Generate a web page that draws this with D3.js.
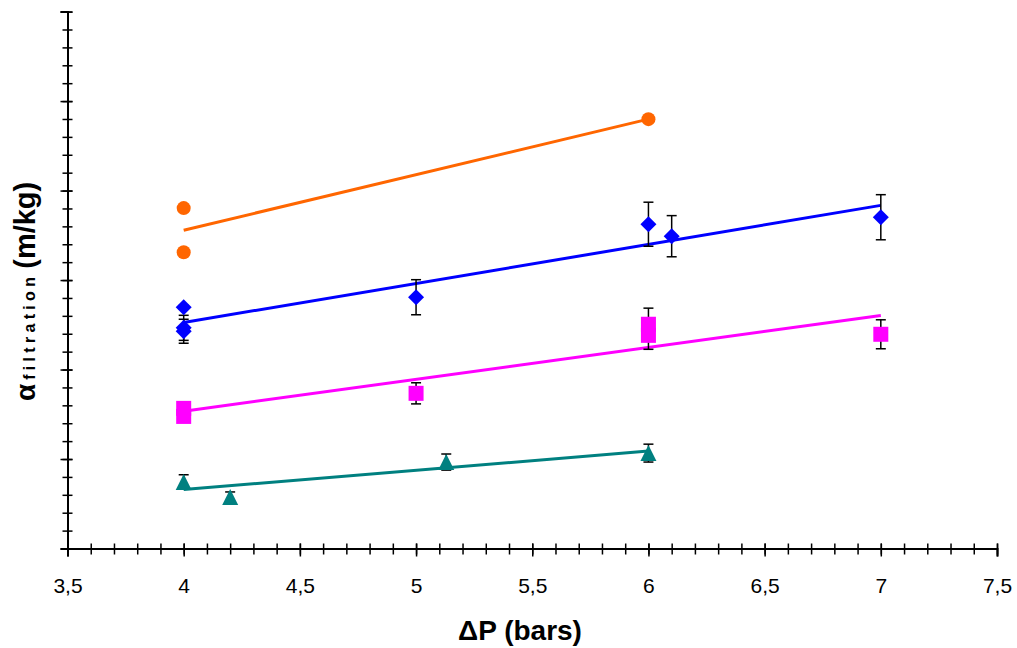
<!DOCTYPE html>
<html>
<head>
<meta charset="utf-8">
<script src="https://cdn.jsdelivr.net/npm/d3@7"></script>
<style>
  html, body { margin: 0; padding: 0; background: #fff; }
  svg { display: block; font-family: "Liberation Sans", Arial, sans-serif; }
</style>
</head>
<body>
<svg id="chart" width="1017" height="648"></svg>
<script>
// ---------- data ----------
const xMajorTicks = [3.5, 4, 4.5, 5, 5.5, 6, 6.5, 7, 7.5];
const xTickLabels = ["3,5", "4", "4,5", "5", "5,5", "6", "6,5", "7", "7,5"];
const yMajorTicks = [0, 5, 10, 15, 20, 25, 30];

const orangeX = [4, 4, 6];
const orangeY = [19.02, 16.55, 23.99];

const blueX = [4, 4, 4, 5, 6, 6.1, 7];
const blueY = [13.48, 12.33, 12.14, 14.04, 18.12, 17.45, 18.51];
const blueErr = [0.1, 0.7, 0.67, 0.98, 1.23, 1.15, 1.26];

const magentaX = [4, 4, 5, 6, 6, 7];
const magentaY = [7.83, 7.38, 8.67, 12.53, 11.91, 11.97];
const magentaErr = [0.28, 0.28, 0.59, 0.9, 0.78, 0.81];

const tealX = [4, 4.2, 5.13, 6];
const tealY = [3.72, 2.88, 4.83, 5.33];
const tealErr = [0.4, 0.28, 0.45, 0.5];

const xTitle = "ΔP (bars)";
const yTitleMain = "α";
const yTitleSub = "filtration";
const yTitleUnit = "(m/kg)";

// ---------- layout ----------
const svg = d3.select("#chart");
const plotLeft = 67.5, plotRight = 997, plotTop = 11.6, plotBottom = 548.5;

const x = d3.scaleLinear().domain([3.5, 7.5]).range([plotLeft, plotRight]);
const y = d3.scaleLinear().domain([0, 30]).range([plotBottom, plotTop]);

const series = [
  { xs: orangeX, ys: orangeY, err: null, color: "#FF6600", shape: "circle" },
  { xs: blueX, ys: blueY, err: blueErr, color: "#0000FF", shape: "diamond" },
  { xs: magentaX, ys: magentaY, err: magentaErr, color: "#FF00FF", shape: "square" },
  { xs: tealX, ys: tealY, err: tealErr, color: "#008080", shape: "triangle" }
];

function regress(xs, ys) {
  const n = xs.length;
  const mx = d3.mean(xs), my = d3.mean(ys);
  let sxy = 0, sxx = 0;
  for (let i = 0; i < n; i++) { sxy += (xs[i] - mx) * (ys[i] - my); sxx += (xs[i] - mx) ** 2; }
  const b = sxy / sxx;
  return { a: my - b * mx, b };
}

// ---------- axes ----------
const axisColor = "#000";
const xMinor = d3.range(35, 76).map(v => v / 10);
const gxMinor = svg.append("g").attr("transform", `translate(0,${plotBottom})`)
  .call(d3.axisBottom(x).tickValues(xMinor).tickSize(6).tickFormat(""));
gxMinor.select(".domain").remove();
gxMinor.selectAll(".tick line").attr("y1", -5).attr("stroke", axisColor).attr("stroke-width", 1.5);

const gx = svg.append("g").attr("transform", `translate(0,${plotBottom})`)
  .call(d3.axisBottom(x).tickValues(xMajorTicks).tickSize(8).tickPadding(22)
        .tickFormat((d, i) => xTickLabels[i]));
gx.select(".domain").attr("stroke", axisColor).attr("stroke-width", 2);
gx.selectAll(".tick line").attr("y1", -5).attr("stroke", axisColor).attr("stroke-width", 1.5);
gx.selectAll(".tick text").attr("font-size", 21).attr("fill", "#000")
  .attr("font-family", "'Liberation Sans', Arial, sans-serif");

const yMinor = d3.range(0, 31);
const gyMinor = svg.append("g").attr("transform", `translate(${plotLeft},0)`)
  .call(d3.axisLeft(y).tickValues(yMinor).tickSize(5).tickFormat(""));
gyMinor.select(".domain").remove();
gyMinor.selectAll(".tick line").attr("x1", 5).attr("stroke", axisColor).attr("stroke-width", 1.5);

const gy = svg.append("g").attr("transform", `translate(${plotLeft},0)`)
  .call(d3.axisLeft(y).tickValues(yMajorTicks).tickSize(7).tickFormat(""));
gy.select(".domain").attr("stroke", axisColor).attr("stroke-width", 2);
gy.selectAll(".tick line").attr("x1", 5).attr("stroke", axisColor).attr("stroke-width", 1.5);

// ---------- trend lines ----------
series.forEach(s => {
  const r = regress(s.xs, s.ys);
  const x0 = d3.min(s.xs), x1 = d3.max(s.xs);
  svg.append("line")
    .attr("x1", x(x0)).attr("y1", y(r.a + r.b * x0))
    .attr("x2", x(x1)).attr("y2", y(r.a + r.b * x1))
    .attr("stroke", s.color).attr("stroke-width", 3);
});

// ---------- error bars ----------
series.forEach(s => {
  if (!s.err) return;
  const g = svg.append("g").attr("stroke", "#000").attr("stroke-width", 1.5);
  s.xs.forEach((xv, i) => {
    const cx = x(xv), yt = y(s.ys[i] + s.err[i]), yb = y(s.ys[i] - s.err[i]);
    g.append("line").attr("x1", cx).attr("x2", cx).attr("y1", yt).attr("y2", yb);
    g.append("line").attr("x1", cx - 5).attr("x2", cx + 5).attr("y1", yt).attr("y2", yt);
    g.append("line").attr("x1", cx - 5).attr("x2", cx + 5).attr("y1", yb).attr("y2", yb);
  });
});

// ---------- markers ----------
series.forEach(s => {
  const g = svg.append("g").attr("fill", s.color);
  s.xs.forEach((xv, i) => {
    const cx = x(xv), cy = y(s.ys[i]);
    if (s.shape === "circle") {
      g.append("circle").attr("cx", cx).attr("cy", cy).attr("r", 7);
    } else if (s.shape === "diamond") {
      g.append("path").attr("d", `M${cx},${cy - 8}L${cx + 8},${cy}L${cx},${cy + 8}L${cx - 8},${cy}Z`);
    } else if (s.shape === "square") {
      g.append("rect").attr("x", cx - 7.5).attr("y", cy - 7.5).attr("width", 15).attr("height", 15);
    } else if (s.shape === "triangle") {
      g.append("path").attr("d", `M${cx},${cy - 8}L${cx + 8},${cy + 8}L${cx - 8},${cy + 8}Z`);
    }
  });
});

// ---------- titles ----------
svg.append("text")
  .attr("x", 520).attr("y", 640)
  .attr("text-anchor", "middle")
  .attr("font-size", 28).attr("font-weight", "bold").attr("fill", "#000")
  .text(xTitle);

const yTitle = svg.append("text")
  .attr("transform", "translate(35,401) rotate(-90)")
  .attr("text-anchor", "start")
  .attr("font-weight", "bold").attr("fill", "#000");
yTitle.append("tspan").attr("font-size", 28).text(yTitleMain);
yTitle.append("tspan").attr("font-size", 16).attr("dx", 4).attr("letter-spacing", 4.3).text(yTitleSub);
yTitle.append("tspan").attr("font-size", 29).attr("dx", 4).text(yTitleUnit);
</script>
</body>
</html>
